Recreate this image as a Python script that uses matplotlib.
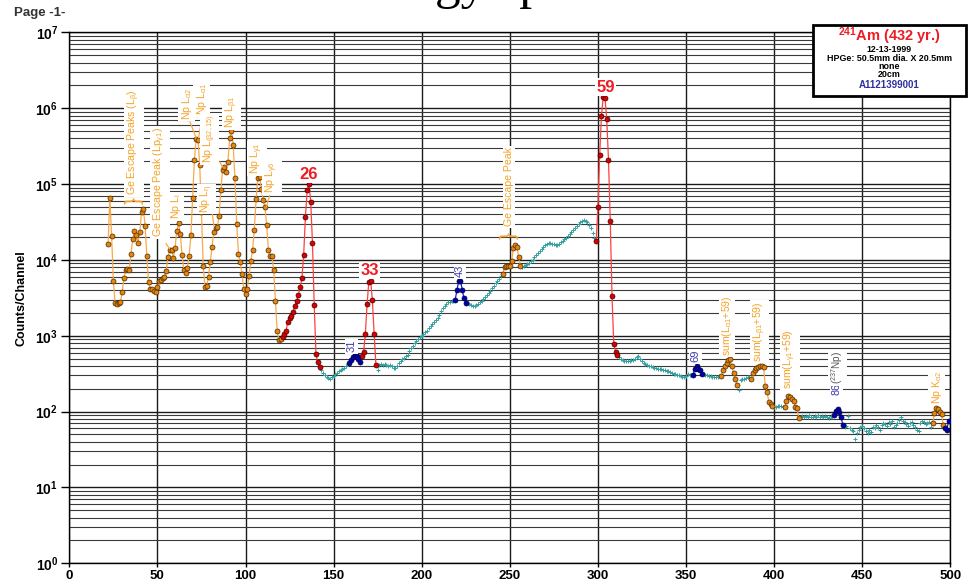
import numpy as np
import matplotlib
matplotlib.use("Agg")
import matplotlib.pyplot as plt
from matplotlib.ticker import FixedLocator, LogLocator, FuncFormatter, NullFormatter
from matplotlib.patches import Rectangle

plt.rcParams['font.family'] = ['Liberation Sans', 'DejaVu Sans']
plt.rcParams['mathtext.fontset'] = 'custom'
plt.rcParams['mathtext.rm'] = 'Liberation Sans'
plt.rcParams['mathtext.bf'] = 'Liberation Sans:bold'
plt.rcParams['mathtext.it'] = 'Liberation Sans:italic'
plt.rcParams['mathtext.sf'] = 'Liberation Sans'

# ---------------- spectrum data (channel, counts per channel) ----------------
# Np L x-ray region (orange)
np_l_ch = np.arange(22, 121)
np_l_counts = [16000, 66000, 20700, 5350, 2700, 2650, 2700, 2760, 3750, 5800,
               7400, 7500, 7450, 11800, 18900, 24100, 21600, 16700, 23400, 42900,
               47500, 28400, 11300, 5040, 4150, 4090, 3900, 3750, 4400, 5200,
               5500, 5800, 6000, 7250, 11000, 13700, 13700, 10600, 14300, 24400,
               30500, 22000, 11500, 7300, 6700, 7850, 11400, 21000, 66400, 210000,
               393000, 386000, 181000, 42500, 8260, 4400, 4550, 5970, 9400, 14800,
               23400, 26700, 27100, 38000, 83600, 152000, 170000, 146000, 197000, 400000,
               500000, 332000, 120000, 30200, 12100, 9400, 6600, 4100, 3560, 4150,
               6100, 9600, 13400, 25100, 62800, 120000, 125000, 85400, 62400, 49900,
               29200, 13700, 11200, 11100, 7300, 2880, 1150, 875, 894]

# Am-241 gamma peaks (red)
peak26_ch = np.arange(121, 143)
peak26_counts = [967, 1040, 1150, 1540, 1710, 1810, 2050, 2480, 2860, 3460, 4370,
                 5690, 11600, 36900, 83600, 100000, 58800, 16800, 2550, 567, 453, 386]
peak33_ch = np.arange(166, 175)
peak33_counts = [539, 608, 1050, 2610, 5190, 5350, 2970, 1060, 414]
peak59_ch = np.arange(299, 312)
peak59_counts = [17600, 49500, 242000, 782000, 1410000, 1380000, 721000,
                 208000, 33000, 3300, 775, 620, 550]

# other gamma lines (blue)
peak31_ch = np.arange(159, 166)
peak31_counts = [436, 483, 530, 560, 545, 497, 447]
peak43_ch = np.arange(219, 226)
peak43_counts = [3000, 4000, 5300, 5300, 4050, 3100, 2700]
peak69_ch = np.arange(354, 360)
peak69_counts = [305, 370, 395, 365, 355, 318]
peak86_ch = np.arange(434, 440)
peak86_counts = [90, 102, 109, 99, 86, 66]
tail_ch = np.arange(497, 500)
tail_counts = [60, 57, 76]

# escape / sum peaks (orange)
ge_esc_ch = np.arange(246, 257)
ge_esc_counts = [6620, 8090, 8340, 8440, 8260, 9610, 14260, 15770, 14830, 10960, 8440]
sum_a1_ch = np.arange(370, 380)
sum_a1_counts = [294, 352, 397, 431, 477, 497, 397, 319, 266, 223]
sum_b1_ch = np.arange(387, 400)
sum_b1_counts = [270, 319, 352, 371, 382, 397, 397, 389, 217, 182, 135, 126, 118]
sum_g1_ch = np.arange(406, 415)
sum_g1_counts = [114, 138, 160, 155, 146, 140, 116, 110, 82]
np_ka2_ch = np.arange(490, 497)
np_ka2_counts = [71, 96, 110, 107, 99, 92, 66]

# continuum (teal)
cont_a_ch = np.arange(143, 159)
cont_a = [352, 325, 300, 285, 276, 272, 285, 298, 310, 322, 338, 350, 362, 380, 400, 420]
cont_b_ch = np.arange(175, 219)
cont_b = [355, 410, 425, 418, 422, 412, 400, 408, 398, 380, 372, 395, 440, 470, 495,
          515, 535, 565, 625, 690, 740, 800, 860, 905, 950, 990, 1040, 1110, 1170, 1260,
          1360, 1450, 1530, 1610, 1740, 1870, 2100, 2300, 2480, 2620, 2750, 2800, 2850, 2900]
cont_c_ch = np.arange(226, 246)
cont_c = [2680, 2600, 2560, 2500, 2470, 2540, 2640, 2760, 2900, 3050,
          3250, 3450, 3700, 3950, 4250, 4550, 4900, 5250, 5650, 6100]
cont_d_ch = np.arange(257, 299)
cont_d = [8100, 8300, 8500, 8800, 9100, 9600, 10100, 10800, 11500, 12300,
          13100, 13900, 14800, 15500, 16100, 16600, 16700, 16300, 16000, 15700,
          15800, 16400, 17000, 17800, 18800, 19700, 20800, 21800, 23200, 24600,
          26200, 27800, 29500, 31400, 32800, 33400, 33000, 31500, 28500, 26000,
          22300, 19200]
cont_e_ch = np.arange(312, 354)
cont_e = [520, 490, 478, 470, 465, 468, 466, 475, 485, 500,
          530, 548, 495, 460, 432, 420, 412, 402, 396, 388,
          380, 372, 366, 362, 360, 356, 350, 345, 338, 332,
          326, 318, 312, 308, 304, 296, 288, 286, 295, 312, 305, 300]
cont_f_ch = np.arange(360, 370)
cont_f = [312, 305, 300, 296, 292, 288, 290, 286, 290, 295]
cont_g_ch = np.arange(380, 387)
cont_g = [195, 258, 266, 272, 276, 282, 287]
cont_h_ch = np.arange(400, 406)
cont_h = [116, 115, 117, 119, 117, 116]
cont_i_ch = np.arange(415, 434)
cont_i = [84, 88, 86, 87, 85, 89, 86, 84, 88, 86, 90, 85, 87, 84, 88, 86, 83, 87, 85]
cont_j_ch = np.arange(440, 490)
cont_j = [62, 64, 88, 60, 58, 55, 44, 52, 58, 62, 64, 60, 55, 52, 58, 54, 62, 60, 66, 63,
          58, 66, 70, 68, 64, 72, 68, 75, 63, 66, 70, 78, 85, 76, 73, 68, 64, 70, 72, 66,
          63, 58, 56, 71, 75, 73, 68, 70, 74, 63]

x_ticks = list(range(0, 501, 50))

# ---------------- figure ----------------
fig = plt.figure(figsize=(9.72, 5.84), dpi=100)
ax = fig.add_axes([0.0713, 0.0354, 0.9064, 0.9092])

ORANGE_LINE = '#f8a94a'
ORANGE_FACE = '#e5850f'
ORANGE_EDGE = '#4a2a00'
RED_LINE = '#ff4040'
RED_FACE = '#d80000'
RED_EDGE = '#4a0000'
BLUE_LINE = '#2020cc'
BLUE_FACE = '#0000b0'
BLUE_EDGE = '#000040'
TEAL = '#35a0a0'


def trace(ch, counts, line, face, edge):
    ax.plot(ch, counts, '-', color=line, lw=0.9, marker='o', ms=3.6,
            mfc=face, mec=edge, mew=0.5, zorder=4)


cont_ch = np.concatenate([cont_a_ch, cont_b_ch, cont_c_ch, cont_d_ch, cont_e_ch,
                          cont_f_ch, cont_g_ch, cont_h_ch, cont_i_ch, cont_j_ch])
cont_counts = np.concatenate([cont_a, cont_b, cont_c, cont_d, cont_e,
                              cont_f, cont_g, cont_h, cont_i, cont_j])
ax.plot(cont_ch, cont_counts, ls='none', marker='+', ms=2.8, mew=0.7,
        color=TEAL, zorder=3)

for ch, cts in [(np_l_ch, np_l_counts), (ge_esc_ch, ge_esc_counts),
                (sum_a1_ch, sum_a1_counts), (sum_b1_ch, sum_b1_counts),
                (sum_g1_ch, sum_g1_counts), (np_ka2_ch, np_ka2_counts)]:
    trace(ch, cts, ORANGE_LINE, ORANGE_FACE, ORANGE_EDGE)
for ch, cts in [(peak26_ch, peak26_counts), (peak33_ch, peak33_counts),
                (peak59_ch, peak59_counts)]:
    trace(ch, cts, RED_LINE, RED_FACE, RED_EDGE)
for ch, cts in [(peak31_ch, peak31_counts), (peak43_ch, peak43_counts),
                (peak69_ch, peak69_counts), (peak86_ch, peak86_counts),
                (tail_ch, tail_counts)]:
    trace(ch, cts, BLUE_LINE, BLUE_FACE, BLUE_EDGE)

# ---------------- axes ----------------
ax.set_yscale('log')
ax.set_xlim(0, 500)
ax.set_ylim(1, 1e7)
ax.xaxis.set_major_locator(FixedLocator(x_ticks))
ax.yaxis.set_major_locator(LogLocator(base=10, numticks=12))
ax.yaxis.set_minor_locator(LogLocator(base=10, subs=np.arange(2, 10), numticks=12))
ax.yaxis.set_minor_formatter(NullFormatter())
ax.yaxis.set_major_formatter(FuncFormatter(
    lambda v, _: r'$\mathbf{10^{%d}}$' % int(round(np.log10(v)))))
ax.set_axisbelow(True)
ax.grid(True, which='major', axis='both', color='#1a1a1a', lw=1.0)
ax.grid(True, which='minor', axis='y', color='#3a3a3a', lw=0.8)
ax.tick_params(axis='y', which='major', length=6, width=1, labelsize=10, pad=2)
ax.tick_params(axis='y', which='minor', length=0)
ax.tick_params(axis='x', which='major', length=3, width=1, labelsize=9.5, pad=2)
for lab in ax.get_xticklabels():
    lab.set_fontweight('bold')
for sp in ax.spines.values():
    sp.set_color('black')
    sp.set_linewidth(1.0)
ax.set_ylabel('Counts/Channel', fontsize=9, fontweight='bold')
ax.yaxis.set_label_coords(-0.047, 0.5)

# ---------------- peak labels ----------------
WHITE = dict(facecolor='white', edgecolor='none', pad=1.0)
ORANGE_TXT = '#f5a327'
BLUE_TXT = '#3a3aa8'


def vlabel(x, y, s, color, size=7.6):
    ax.text(x, y, s, rotation=90, rotation_mode='anchor', ha='left', va='center',
            color=color, fontsize=size, bbox=WHITE, zorder=6)


def leader(x0, y0, x1, y1):
    ax.plot([x0, x1], [y0, y1], color=ORANGE_LINE, lw=0.9, zorder=5)


def brace(x, y):
    ax.text(x, y, '}', rotation=90, ha='center', va='center', color=ORANGE_TXT,
            fontsize=15, zorder=6)


vlabel(36.7, 71200, r'Ge Escape Peaks (L$\mathregular{_{β}}$)', ORANGE_TXT)
brace(36.7, 60000)
vlabel(51.5, 19900, r'Ge Escape Peak (Lp$\mathregular{_{γ1}}$)', ORANGE_TXT)
leader(54.9, 16450, 56.8, 14130)
vlabel(60.4, 34400, r'Np L$\mathregular{_{l}}$', ORANGE_TXT)
vlabel(66.6, 708000, r'Np L$\mathregular{_{α2}}$', ORANGE_TXT)
leader(68.5, 658000, 71.9, 410000)
vlabel(75.1, 807000, r'Np L$\mathregular{_{α1}}$', ORANGE_TXT)
leader(75.3, 759000, 73.4, 410000)
vlabel(79.8, 188000, r'Np L$\mathregular{_{(β2,15)}}$', ORANGE_TXT)
leader(85.5, 195500, 86.9, 169000)
vlabel(78.1, 41600, r'Np L$\mathregular{_{η}}$', ORANGE_TXT)
leader(80.2, 58100, 82.1, 28050)
vlabel(92.1, 543000, r'Np L$\mathregular{_{β1}}$', ORANGE_TXT)
vlabel(106.5, 134600, r'Np L$\mathregular{_{γ1}}$', ORANGE_TXT)
vlabel(115.0, 75700, r'Np L$\mathregular{_{γ6}}$', ORANGE_TXT)
leader(113.6, 70100, 112.0, 51000)
vlabel(249.5, 27800, 'Ge Escape Peak', ORANGE_TXT)
brace(249.8, 20840)
vlabel(373.3, 539, r'sum(L$\mathregular{_{α1}}$+59)', ORANGE_TXT)
vlabel(391.6, 453, r'sum(L$\mathregular{_{β1}}$+59)', ORANGE_TXT)
vlabel(409.0, 196, r'sum(L$\mathregular{_{γ1}}$+59)', ORANGE_TXT)
vlabel(492.3, 125.6, r'Np K$\mathregular{_{α2}}$', ORANGE_TXT)


def blabel(x, y, s):
    ax.text(x, y, s, rotation=90, ha='center', va='center', color=BLUE_TXT,
            fontsize=8, bbox=WHITE, zorder=6)


blabel(160.3, 729, '31')
blabel(221.7, 7100, '43')
blabel(355.5, 539, '69')
vlabel(435.5, 165, '86', BLUE_TXT, size=7.8)
vlabel(435.8, 228, r'($\mathregular{^{237}}$Np)', '#555555', size=7.2)


def rlabel(x, y, s):
    ax.text(x, y, s, ha='center', va='center', color='#ee1c25', fontsize=12,
            fontweight='bold', bbox=dict(facecolor='white', edgecolor='none', pad=0.8),
            zorder=6)


rlabel(135.9, 134600, '26')
rlabel(170.5, 7210, '33')
rlabel(304.2, 1.9e6, '59')

# ---------------- page furniture ----------------
fig.text(0.349, 1.004, 'Energy spectrum', family=['Liberation Serif', 'DejaVu Serif'],
         fontsize=37, ha='left', va='baseline')
fig.text(14 / 972, 1 - 13 / 584, 'Page -1-', fontsize=9.5, fontweight='bold',
         color='#333333', va='center', ha='left')

# source information box
bx0, bx1, by0, by1 = 813, 966, 25, 96
fig.patches.append(Rectangle((bx0 / 972, 1 - by1 / 584), (bx1 - bx0) / 972,
                             (by1 - by0) / 584, transform=fig.transFigure,
                             facecolor='white', edgecolor='black', lw=2.0, zorder=10))
cx = (bx0 + bx1) / 2 / 972
fig.text(cx, 1 - 36 / 584, r'$^{\mathbf{241}}$Am (432 yr.)', color='#ee1c25',
         fontsize=10.5, fontweight='bold', ha='center', va='center', zorder=11)
for ypx, s in [(50, '12-13-1999'), (58.5, 'HPGe: 50.5mm dia. X 20.5mm'),
               (66.5, 'none'), (74.5, '20cm')]:
    fig.text(cx, 1 - ypx / 584, s, color='black', fontsize=6.4, fontweight='bold',
             ha='center', va='center', zorder=11)
fig.text(cx, 1 - 85 / 584, 'A1121399001', color='#3030a0', fontsize=7,
         fontweight='bold', ha='center', va='center', zorder=11)

fig.savefig('out.png', dpi=100)
